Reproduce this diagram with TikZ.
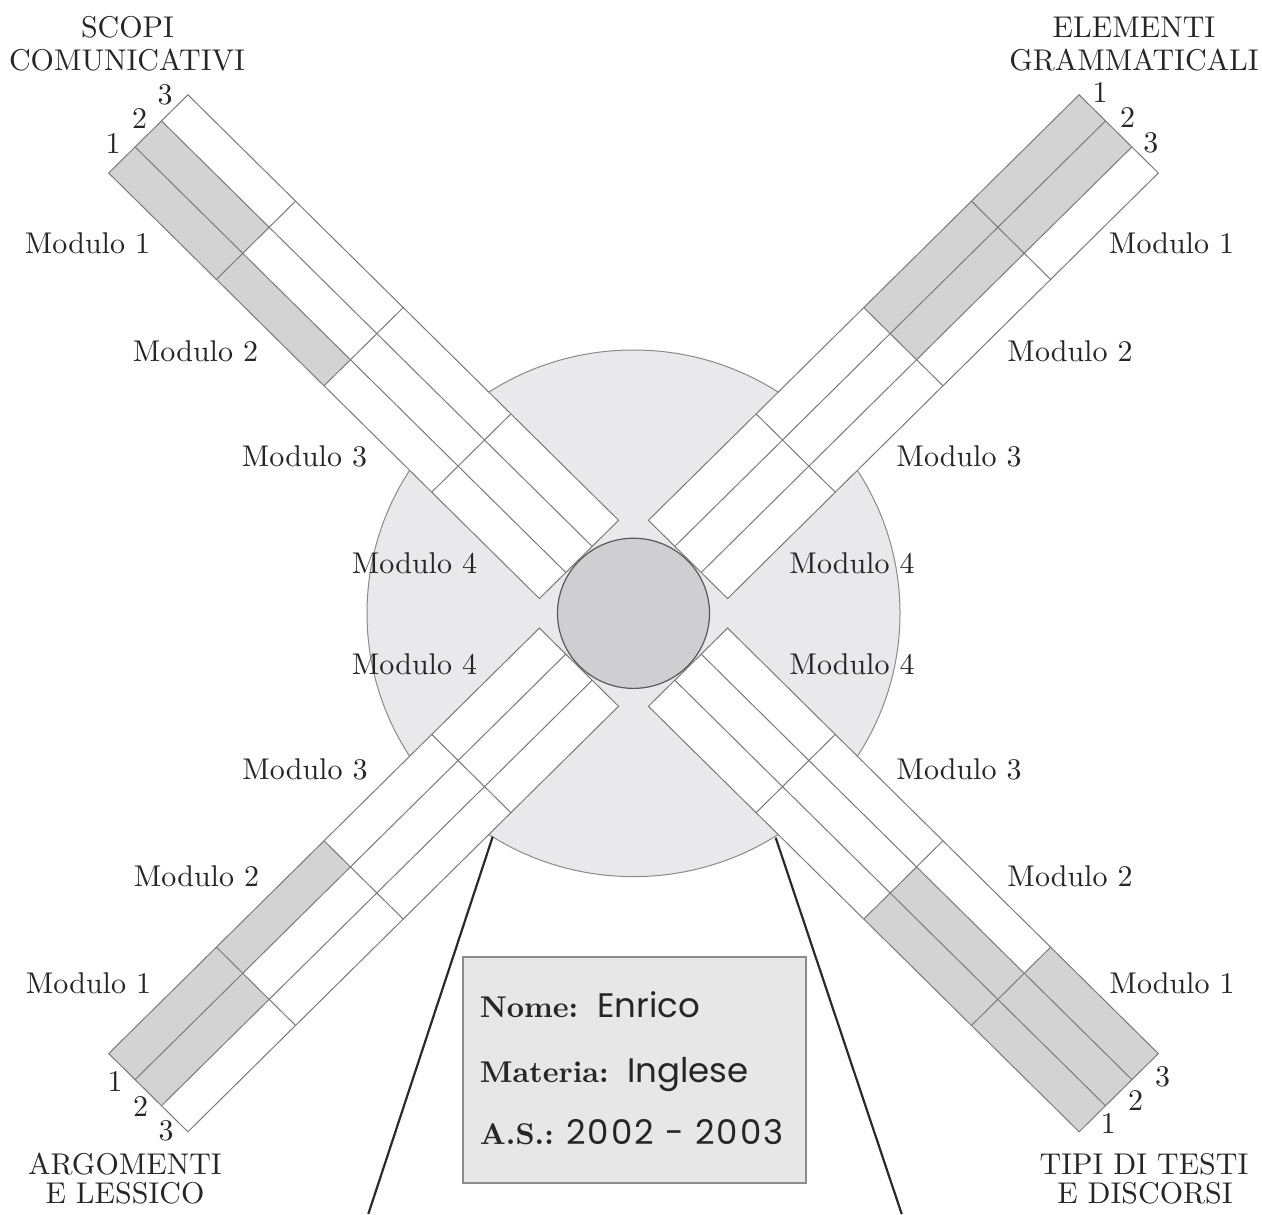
\documentclass[tikz,border=0pt]{standalone}
\usepackage{fontspec}
\setmainfont{lmroman10-regular.otf}[BoldFont=lmroman10-bold.otf]
\newfontfamily\handfont{Poppins}
\definecolor{armline}{HTML}{7A7A7A}
\definecolor{cellgray}{HTML}{D3D3D4}
\definecolor{bigfill}{HTML}{E9E9EB}
\definecolor{bigline}{HTML}{8A8A8A}
\definecolor{hubfill}{HTML}{CFCFD2}
\definecolor{hubline}{HTML}{5A5A5A}
\definecolor{boxfill}{HTML}{E7E7E8}
\definecolor{boxline}{HTML}{8C8C8C}
\definecolor{legline}{HTML}{2A2A2A}
\definecolor{txt}{HTML}{262626}
\def\ArmIn{77.1}
\def\ArmOut{686.2}
\def\ArmHW{56}
\def\LaneW{37.333}
\def\ModL{152.275}
\newcommand{\windarm}[3]{%
  \begin{scope}[shift={(633.5,613.3)}, yscale=0.988, x={#1}, y={#2}]
    \fill[white] (\ArmIn,-\ArmHW) -- (\ArmOut,-\ArmHW) -- (\ArmOut,\ArmHW) -- (\ArmIn,\ArmHW) -- cycle;
    \foreach \ln/\md in {#3} {
      \pgfmathsetmacro{\ua}{\ArmOut-\md*\ModL}
      \pgfmathsetmacro{\ub}{\ArmOut-(\md-1)*\ModL}
      \pgfmathsetmacro{\va}{-\ArmHW+(\ln-1)*\LaneW}
      \pgfmathsetmacro{\vb}{-\ArmHW+\ln*\LaneW}
      \fill[cellgray] (\ua,\va) -- (\ub,\va) -- (\ub,\vb) -- (\ua,\vb) -- cycle;
    }
    \draw[armedge] (\ArmIn,-\ArmHW) -- (\ArmOut,-\ArmHW) -- (\ArmOut,\ArmHW) -- (\ArmIn,\ArmHW) -- cycle;
    \foreach \k in {1,2} {\draw[armedge] (\ArmIn,{-\ArmHW+\k*\LaneW}) -- (\ArmOut,{-\ArmHW+\k*\LaneW});}
    \foreach \k in {1,2,3} {\draw[armedge] ({\ArmOut-\k*\ModL},-\ArmHW) -- ({\ArmOut-\k*\ModL},\ArmHW);}
  \end{scope}}
\tikzset{
  armedge/.style={draw=armline, line width=0.5pt},
  lbl/.style={font=\fontsize{15}{16}\selectfont, text=txt, inner sep=0pt, anchor=base},
  boldlbl/.style={font=\fontsize{15}{16}\selectfont\bfseries, text=txt, inner sep=0pt, anchor=base west},
  handlbl/.style={font=\fontsize{17}{18}\selectfont\handfont, text=txt, inner sep=0pt, anchor=base west},
  leg/.style={draw=legline, line width=1.1pt},
  infobox/.style={draw=boxline, fill=boxfill, line width=0.6pt, minimum width=171.5pt, minimum height=113pt, inner sep=0pt}
}
\begin{document}
\begin{tikzpicture}[x=0.5pt, y=-0.5pt]
\useasboundingbox (0,0) rectangle (1262,1214);
% big disc
\begin{scope}[shift={(633.5,613.3)}, yscale=0.988]
  \draw[draw=bigline, fill=bigfill, line width=0.5pt] (0,0) circle[radius=266.5];
\end{scope}
% arms
\windarm{(-0.353553pt,0.353553pt)}{(0.353553pt,0.353553pt)}{1/1,1/2,2/1}
\windarm{(0.353553pt,0.353553pt)}{(0.353553pt,-0.353553pt)}{1/1,1/2,2/1,2/2}
\windarm{(-0.353553pt,-0.353553pt)}{(0.353553pt,-0.353553pt)}{1/1,1/2,2/1}
\windarm{(0.353553pt,-0.353553pt)}{(0.353553pt,0.353553pt)}{1/1,1/2,2/1,2/2,3/1}
% hub
\begin{scope}[shift={(633.5,613.3)}, yscale=0.988]
  \draw[draw=hubline, fill=hubfill, line width=0.6pt] (0,0) circle[radius=76];
\end{scope}
% legs
\coordinate (legLtop) at (492.7,836.7);
\coordinate (legLbot) at (368.3,1214);
\coordinate (legRtop) at (775.7,837.7);
\coordinate (legRbot) at (901.7,1214);
\draw[leg] (legLtop) -- (legLbot);
\draw[leg] (legRtop) -- (legRbot);
% info card
\node[infobox] (card) at (634.5,1070) {};
\node[boldlbl] (nomeL) at (479.5,1017) {Nome:};
\node[handlbl] (nomeV) at (597,1017) {Enrico};
\node[boldlbl] (matL) at (479.5,1082) {Materia:};
\node[handlbl] (matV) at (627,1082) {Inglese};
\node[boldlbl] (asL) at (479.5,1144) {A.S.:};
\node[handlbl] (asV) at (566,1144) {\addfontfeatures{LetterSpace=6}2002 - 2003};
% titles
\node[lbl] (tSa) at (127.5,38) {SCOPI};
\node[lbl] (tSb) at (127,70.5) {COMUNICATIVI};
\node[lbl] (tEa) at (1134,38) {ELEMENTI};
\node[lbl] (tEb) at (1134,70.5) {GRAMMATICALI};
\node[lbl] (tAa) at (125,1174) {ARGOMENTI};
\node[lbl] (tAb) at (125,1203) {E LESSICO};
\node[lbl] (tTa) at (1144,1174) {TIPI DI TESTI};
\node[lbl] (tTb) at (1145,1203) {E DISCORSI};
% module labels
\node[lbl] (ul1) at (87.5,253) {Modulo 1};
\node[lbl] (ul2) at (195.5,361) {Modulo 2};
\node[lbl] (ul3) at (304.5,466) {Modulo 3};
\node[lbl] (ul4) at (414.5,573) {Modulo 4};
\node[lbl] (ur1) at (1171.5,253) {Modulo 1};
\node[lbl] (ur2) at (1070,361) {Modulo 2};
\node[lbl] (ur3) at (959,466) {Modulo 3};
\node[lbl] (ur4) at (852,573) {Modulo 4};
\node[lbl] (ll4) at (414.5,674) {Modulo 4};
\node[lbl] (ll3) at (305,779) {Modulo 3};
\node[lbl] (ll2) at (196.5,886) {Modulo 2};
\node[lbl] (ll1) at (88.5,993) {Modulo 1};
\node[lbl] (lr4) at (852,674) {Modulo 4};
\node[lbl] (lr3) at (959,779) {Modulo 3};
\node[lbl] (lr2) at (1070,886) {Modulo 2};
\node[lbl] (lr1) at (1172,993) {Modulo 1};
% lane numbers
\node[lbl] (nul1) at (113,153.5) {1};
\node[lbl] (nul2) at (139.7,128.3) {2};
\node[lbl] (nul3) at (165,105) {3};
\node[lbl] (nur1) at (1100,103) {1};
\node[lbl] (nur2) at (1127.5,128) {2};
\node[lbl] (nur3) at (1150.8,153) {3};
\node[lbl] (nll1) at (115,1091) {1};
\node[lbl] (nll2) at (140.5,1116) {2};
\node[lbl] (nll3) at (166,1140) {3};
\node[lbl] (nlr3) at (1162.5,1086) {3};
\node[lbl] (nlr2) at (1135.5,1110) {2};
\node[lbl] (nlr1) at (1108.3,1133) {1};
\end{tikzpicture}
\end{document}
